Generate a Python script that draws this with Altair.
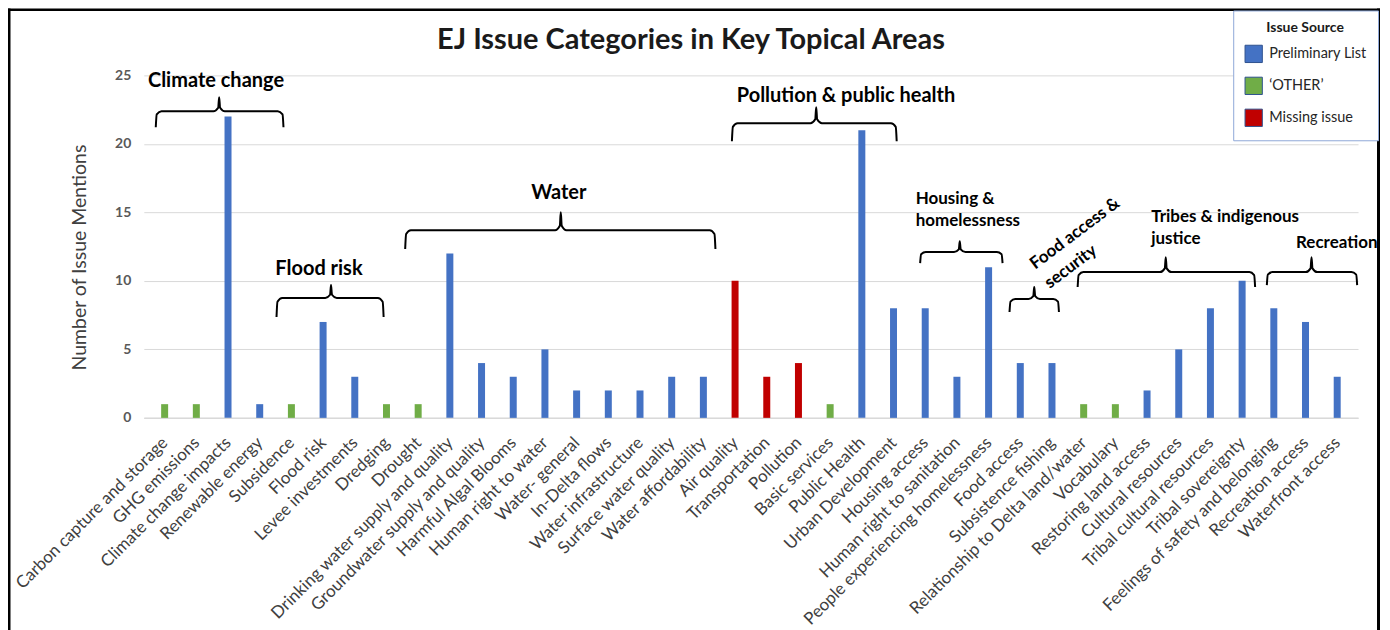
import json
import altair as alt
import pandas as pd

chart_title = "EJ Issue Categories in Key Topical Areas"

categories = [
    "Carbon capture and storage", "GHG emissions", "Climate change impacts", "Renewable energy", "Subsidence",
    "Flood risk", "Levee investments", "Dredging", "Drought", "Drinking water supply and quality",
    "Groundwater supply and quality", "Harmful Algal Blooms", "Human right to water", "Water- general", "In-Delta flows",
    "Water infrastructure", "Surface water quality", "Water affordability", "Air quality", "Transportation",
    "Pollution", "Basic services", "Public Health", "Urban Development", "Housing access",
    "Human right to sanitation", "People experiencing homelessness", "Food access", "Subsistence fishing",
    "Relationship to Delta land/water", "Vocabulary", "Restoring land access", "Cultural resources",
    "Tribal cultural resources", "Tribal sovereignty", "Feelings of safety and belonging", "Recreation access",
    "Waterfront access",
]
mentions = [1, 1, 22, 1, 1, 7, 3, 1, 1, 12, 4, 3, 5, 2, 2, 2, 3, 3, 10, 3, 4, 1, 21, 8, 8, 3, 11, 4, 4, 1, 1, 2,
            5, 8, 10, 8, 7, 3]
source_code = ["O", "O", "P", "P", "O", "P", "P", "O", "O", "P", "P", "P", "P", "P", "P", "P", "P", "P", "M", "M",
               "M", "O", "P", "P", "P", "P", "P", "P", "P", "O", "O", "P", "P", "P", "P", "P", "P", "P"]
source_names = {"P": "Preliminary List", "O": "\u2018OTHER\u2019", "M": "Missing issue"}
source_order = ["Preliminary List", "\u2018OTHER\u2019", "Missing issue"]
source_colors = ["#4472C4", "#70AD47", "#C00000"]
y_ticks = [0, 5, 10, 15, 20, 25]

# Topical-area brackets (x in category index units, y in mention units)
group_names = ["Climate change", "Flood risk", "Water", "Pollution & public health", "Housing & homelessness",
               "Food access & security", "Tribes & indigenous justice", "Recreation"]
brace_start = [-0.28, 3.53, 7.59, 17.9, 23.84, 26.66, 28.81, 34.78]
brace_end = [3.75, 6.91, 17.38, 23.1, 26.44, 28.22, 34.41, 37.63]
brace_mid = [1.72, 5.25, 12.5, 20.56, 25.09, 27.44, 31.59, 36.19]
brace_level = [22.38, 8.75, 13.7, 21.5, 12.1, 8.67, 10.64, 10.64]
brace_foot = [21.21, 7.36, 12.32, 20.19, 11.3, 7.73, 9.55, 9.69]
brace_tip = [23.4, 9.69, 15.01, 22.67, 12.9, 9.55, 11.73, 11.73]

# Area labels
center_labels = ["Climate change", "Flood risk", "Water", "Pollution & public health"]
center_x = [1.62, 4.87, 12.44, 21.5]
center_y = [24.6, 10.9, 16.4, 23.47]
left_labels = [["Housing &", "homelessness"], ["Tribes & indigenous", "justice"], ["Recreation"]]
left_x = [23.7, 31.13, 35.7]
left_y = [15.96, 14.65, 12.75]
rot_labels = [["Food access &", "security"]]
rot_x = [27.38]
rot_y = [11.1]

bars = pd.DataFrame({
    "idx": list(range(len(categories))),
    "category": categories,
    "value": mentions,
    "source": [source_names[c] for c in source_code],
})

pts = []
for g, x0, x1, xm, yh, yf, yt in zip(group_names, brace_start, brace_end, brace_mid, brace_level, brace_foot, brace_tip):
    cx = 0.18
    cy = (yh - yf) * 0.2
    ty = (yt - yh) * 0.25
    seq = [(x0, yf), (x0 + 0.03, yh - cy), (x0 + cx, yh), (xm - cx, yh), (xm - 0.03, yh + ty), (xm, yt),
           (xm + 0.03, yh + ty), (xm + cx, yh), (x1 - cx, yh), (x1 - 0.03, yh - cy), (x1, yf)]
    for k, (px, py) in enumerate(seq):
        pts.append({"group": g, "o": k, "x": px, "y": py})
brace_df = pd.DataFrame(pts)

xscale = alt.Scale(domain=[-0.5, 37.5], nice=False, zero=False)
yscale = alt.Scale(domain=[0, 25], nice=False)

label_expr = json.dumps(categories) + "[round(datum.value)]"

x_axis = alt.Axis(
    values=list(range(len(categories))), labelExpr=label_expr, labelAngle=315, labelAlign="right",
    labelBaseline="middle", labelPadding=22, labelFontSize=17, labelColor="#404040", labelOverlap=False,
    labelSeparation=0, labelFlush=False, labelLimit=500, labelBound=False, ticks=False, grid=False,
    domainColor="#D9D9D9", domainWidth=1.5, title=None)
y_axis = alt.Axis(
    values=y_ticks, labelFontSize=14, labelFontWeight="bold", labelColor="#595959",
    labelPadding=13, ticks=False, domain=False, gridColor="#D9D9D9", gridWidth=1,
    title="Number of Issue Mentions", titleFontSize=19.5, titleFontWeight="normal", titleColor="#404040",
    titleX=-64, titleY=182, titleAngle=270, titleBaseline="middle")

X = lambda f: alt.X(f, scale=xscale, axis=x_axis)
Y = lambda f: alt.Y(f, scale=yscale, axis=y_axis)

bar_chart = alt.Chart(bars).mark_bar(size=7).encode(
    x=X("idx:Q"),
    y=alt.Y("value:Q", scale=yscale, axis=y_axis, stack=None),
    color=alt.Color("source:N", scale=alt.Scale(domain=source_order, range=source_colors), legend=alt.Legend(
        title="Issue Source", orient="none", legendX=1091, legendY=-65, strokeColor="#8FA8D8",
        fillColor="white", padding=11, titleFontSize=14, titleFontWeight="bold", titleColor="#1a1a1a",
        titleAnchor="middle", titlePadding=9, labelFontSize=14.5, labelColor="#262626", symbolType="square",
        symbolSize=300, symbolStrokeColor="#2F528F", symbolStrokeWidth=1, symbolOpacity=1, rowPadding=9,
        labelOffset=6)),
)

brace_chart = alt.Chart(brace_df).mark_line(color="black", strokeWidth=2, interpolate="monotone",
                                             strokeJoin="round", clip=False).encode(
    x=X("x:Q"), y=Y("y:Q"), detail="group:N", order="o:Q")

center_df = pd.DataFrame({"label": center_labels, "x": center_x, "y": center_y})
center_chart = alt.Chart(center_df).mark_text(fontSize=20, fontWeight="bold", color="black", align="center",
                                               baseline="middle").encode(
    x=X("x:Q"), y=Y("y:Q"), text="label")

left_df = pd.DataFrame({"label": left_labels, "x": left_x, "y": left_y})
left_chart = alt.Chart(left_df).mark_text(fontSize=17, fontWeight="bold", color="black", align="left",
                                           baseline="middle", lineHeight=22).encode(
    x=X("x:Q"), y=Y("y:Q"), text="label")

rot_df = pd.DataFrame({"label": rot_labels, "x": rot_x, "y": rot_y})
rot_chart = alt.Chart(rot_df).mark_text(fontSize=17, fontWeight="bold", color="black", align="left",
                                         baseline="middle", lineHeight=24, angle=323).encode(
    x=X("x:Q"), y=Y("y:Q"), text="label")

one = pd.DataFrame({"t": [chart_title]})
title_chart = alt.Chart(one).mark_text(fontSize=29, fontWeight="bold", color="#1a1a1a", align="center",
                                        baseline="middle").encode(
    x=alt.value(548), y=alt.value(-35), text="t:N")
mask = alt.Chart(one).mark_rect(color="white").encode(
    x=alt.value(1237), x2=alt.value(1262), y=alt.value(-70), y2=alt.value(570))
frame_left = alt.Chart(one).mark_rect(color="black").encode(
    x=alt.value(-136), x2=alt.value(-133.5), y=alt.value(-67), y2=alt.value(570))
frame_top = alt.Chart(one).mark_rect(color="black").encode(
    x=alt.value(-136), x2=alt.value(1238), y=alt.value(-67), y2=alt.value(-64.5))
frame_right = alt.Chart(one).mark_rect(color="black").encode(
    x=alt.value(1235), x2=alt.value(1238), y=alt.value(-67), y2=alt.value(570))

chart = alt.layer(bar_chart, brace_chart, center_chart, left_chart, rot_chart, title_chart, mask, frame_left,
                  frame_top, frame_right).properties(
    width=1216, height=343,
    autosize=alt.AutoSizeParams(type="none"),
    padding={"left": 136, "top": 67, "right": 24, "bottom": 222},
).configure(font="Lato").configure_view(stroke=None).configure_axis(labelFont="Lato", titleFont="Lato")

chart.save("out.html", embed_options={"renderer": "svg", "actions": False})
